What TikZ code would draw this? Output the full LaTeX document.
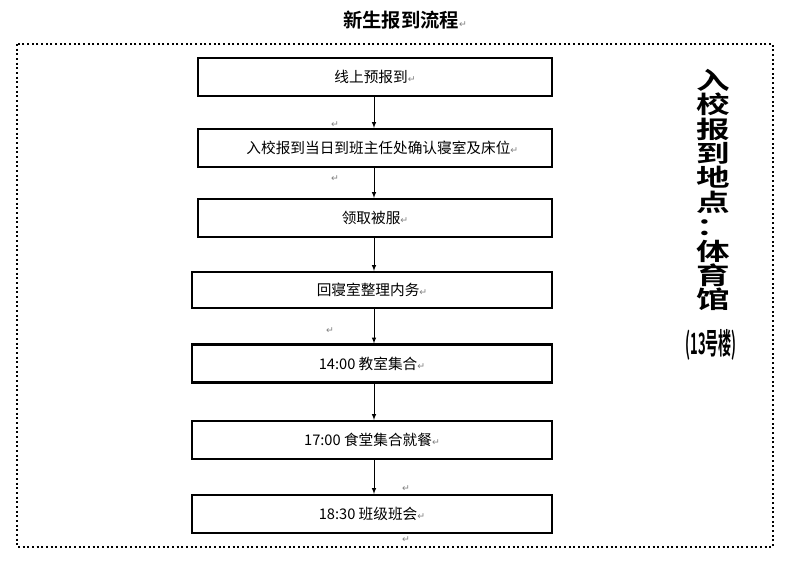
\documentclass[tikz,border=0pt]{standalone}
\usepackage{fontspec}
\newfontfamily\cjk{Noto Sans CJK SC}
\newfontfamily\cjkb{Noto Sans CJK SC Bold}
\newfontfamily\dv{DejaVu Sans}
\newcommand{\rmk}{{\dv\fontsize{7}{7}\selectfont\color{gray}↵}}
\begin{document}
\begin{tikzpicture}[x=0.75pt,y=-0.75pt,
  stepbox/.style={draw,line width=1.6pt,minimum height=28.5pt,inner sep=0pt,font=\cjk\fontsize{11}{11}\selectfont},
  arr/.style={draw,-latex,line width=0.5pt},
  mk/.style={inner sep=0pt,font=\dv\fontsize{7}{7}\selectfont,text=gray}]
\useasboundingbox (0,0) rectangle (788,562);
\node (title) at (405,20) {\cjkb\fontsize{14.5}{14.5}\selectfont 新生报到流程\rmk};
\draw[dotted,line width=1.5pt] (17,44) rectangle (773,547);
\node[stepbox,minimum width=265.5pt] (b1) at (375,77) {线上预报到\rmk};
\node[stepbox,minimum width=265.5pt] (b2) at (375,148) {\quad 入校报到当日到班主任处确认寝室及床位\rmk};
\node[stepbox,minimum width=265.5pt] (b3) at (375,218) {领取被服\rmk};
\node[stepbox,minimum width=270pt,minimum height=27pt] (b4) at (372,290) {回寝室整理内务\rmk};
\node[stepbox,minimum width=270pt] (b5) at (372,363.5) {14:00 教室集合\rmk};
\node[stepbox,minimum width=270pt] (b6) at (372,440) {17:00 食堂集合就餐\rmk};
\node[stepbox,minimum width=270pt] (b7) at (372,514) {18:30 班级班会\rmk};
\foreach \a/\b in {b1/b2,b2/b3,b3/b4,b4/b5,b5/b6,b6/b7}
  \draw[arr] (\a.south -| 374,0) -- (\b.north -| 374,0);
\node[mk] (m1) at (335,125) {↵};
\node[mk] (m2) at (335,179) {↵};
\node[mk] (m3) at (330,331) {↵};
\node[mk] (m4) at (406,489) {↵};
\node[mk] (m5) at (406,540) {↵};
\node[align=center,inner sep=0pt,xscale=1.4,font=\cjkb\fontsize{18}{18.3}\selectfont] (side) at (713,190)
  {入\\校\\报\\到\\地\\点\\：\\体\\育\\馆};
\node[inner sep=0pt,font=\cjkb\fontsize{13}{13}\selectfont,xscale=0.75,yscale=1.7] (side2) at (711,345) {(13号楼)};
\end{tikzpicture}
\end{document}
